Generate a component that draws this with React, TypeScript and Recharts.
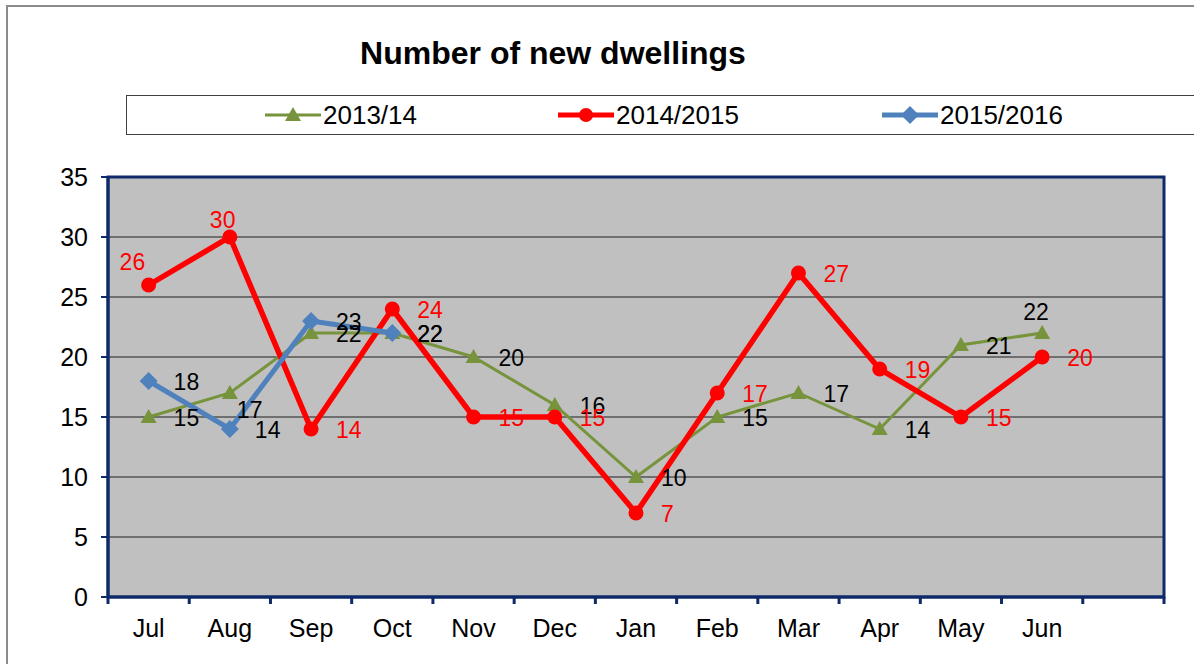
import React from 'react';
import { LineChart, Line, XAxis, YAxis, CartesianGrid, ReferenceArea, LabelList } from 'recharts';

// categories (last slot is empty, like the original sheet)
const months = ['Jul', 'Aug', 'Sep', 'Oct', 'Nov', 'Dec', 'Jan', 'Feb', 'Mar', 'Apr', 'May', 'Jun', ''];
const dwellings1314 = [15, 17, 22, 22, 20, 16, 10, 15, 17, 14, 21, 22];
const dwellings1415 = [26, 30, 14, 24, 15, 15, 7, 17, 27, 19, 15, 20];
const dwellings1516 = [18, 14, 23, 22];
const yTicks = [0, 5, 10, 15, 20, 25, 30, 35];

const GREEN = '#77933C';
const RED = '#FF0000';
const BLUE = '#4F81BD';
const NAVY = '#0E2A6A';
const FONT = '"Liberation Sans", Arial, sans-serif';

const W = 1194;
const H = 664;
const M = { top: 177, right: 30, bottom: 7, left: 0 };
const Y_WIDTH = 108;
const X_HEIGHT = 60;
const BAND = (W - M.left - M.right - Y_WIDTH) / months.length;

const data = months.map((m, i) => ({
  month: m,
  a: dwellings1314[i] ?? null,
  b: dwellings1415[i] ?? null,
  c: dwellings1516[i] ?? null,
}));

// label nudges for a few points, everything else sits to the right
const nudges: Record<string, Record<number, [number, number]>> = {
  a: { 1: [7, 17], 11: [-19, -21] },
  b: { 0: [-29, -23], 1: [-20, -17] },
  c: {},
};

const makeLabel = (key: string, color: string) => (props: any) => {
  const { x, y, value, index } = props;
  if (value == null || x == null || y == null) return null;
  const [dx, dy] = nudges[key][index] ?? [25, 1];
  return (
    <text x={x + dx} y={y + dy} fill={color} fontSize={23} fontFamily={FONT} textAnchor="start" dominantBaseline="central">
      {value}
    </text>
  );
};

const Triangle = (props: any) => {
  const { cx, cy, index } = props;
  if (cx == null || cy == null || props.value == null) return <g key={`t-${index}`} />;
  return <path key={`t-${index}`} d={`M${cx},${cy - 8} L${cx + 8},${cy + 6} L${cx - 8},${cy + 6} Z`} fill={GREEN} />;
};

const Diamond = (props: any) => {
  const { cx, cy, index } = props;
  if (cx == null || cy == null || props.value == null) return <g key={`d-${index}`} />;
  return <path key={`d-${index}`} d={`M${cx},${cy - 9} L${cx + 9},${cy} L${cx},${cy + 9} L${cx - 9},${cy} Z`} fill={BLUE} />;
};

const XTick = (props: any) => {
  const { x, y, payload, index } = props;
  const last = index === months.length - 1;
  return (
    <g>
      <line x1={x - BAND / 2} x2={x - BAND / 2} y1={y} y2={y + 7} stroke={NAVY} strokeWidth={3} />
      {last && <line x1={x + BAND / 2} x2={x + BAND / 2} y1={y} y2={y + 7} stroke={NAVY} strokeWidth={3} />}
      <text x={x} y={y + 31} textAnchor="middle" dominantBaseline="central" fontSize={25} fontFamily={FONT} fill="#000">
        {payload.value}
      </text>
    </g>
  );
};

const legendItems = [
  { name: '2013/14', color: GREEN, shape: 'triangle', left: 265 },
  { name: '2014/2015', color: RED, shape: 'circle', left: 558 },
  { name: '2015/2016', color: BLUE, shape: 'diamond', left: 882 },
];

const LegendIcon = ({ color, shape }: { color: string; shape: string }) => (
  <svg width={56} height={20} style={{ display: 'block' }}>
    <line x1={0} x2={56} y1={10} y2={10} stroke={color} strokeWidth={shape === 'triangle' ? 3 : 5} />
    {shape === 'triangle' && <path d="M28,2 L36,16 L20,16 Z" fill={color} />}
    {shape === 'circle' && <circle cx={28} cy={10} r={7} fill={color} />}
    {shape === 'diamond' && <path d="M28,1 L37,10 L28,19 L19,10 Z" fill={color} />}
  </svg>
);

export default function App() {
  return (
    <div style={{ position: 'absolute', left: 0, top: 0, width: W, height: H, background: '#fff', fontFamily: FONT, overflow: 'hidden' }}>
      <div style={{ position: 'absolute', left: 6, top: 5, width: W, height: H, border: '2px solid #8c8c8c' }} />
      <div style={{ position: 'absolute', left: 0, width: 1106, top: 34, textAlign: 'center', fontWeight: 'bold', fontSize: 32, lineHeight: '38px' }}>
        Number of new dwellings
      </div>
      <div style={{ position: 'absolute', left: 126, top: 95, width: 1100, height: 38, border: '1px solid #404040' }} />
      {legendItems.map((it) => (
        <div key={it.name} style={{ position: 'absolute', left: it.left, top: 101, display: 'flex', alignItems: 'center', height: 28 }}>
          <LegendIcon color={it.color} shape={it.shape} />
          <span style={{ fontSize: 26, marginLeft: 2, lineHeight: '28px' }}>{it.name}</span>
        </div>
      ))}
      <div style={{ position: 'absolute', left: 0, top: 0 }}>
        <LineChart width={W} height={H} data={data} margin={M}>
          <CartesianGrid vertical={false} stroke="#555" strokeWidth={1.5} fill="#C0C0C0" fillOpacity={1} />
          <XAxis
            dataKey="month"
            scale="band"
            height={X_HEIGHT}
            interval={0}
            axisLine={{ stroke: NAVY, strokeWidth: 3 }}
            tickLine={false}
            tickSize={0}
            tickMargin={0}
            tick={<XTick />}
          />
          <YAxis
            width={Y_WIDTH}
            domain={[0, 35]}
            ticks={yTicks}
            interval={0}
            axisLine={{ stroke: NAVY, strokeWidth: 3 }}
            tickLine={{ stroke: NAVY, strokeWidth: 2 }}
            tickSize={7}
            tickMargin={13}
            tick={{ fontSize: 25, fill: '#000', fontFamily: FONT }}
          />
          <ReferenceArea y1={0} y2={35} fill="none" stroke={NAVY} strokeWidth={3} />
          <Line dataKey="a" stroke={GREEN} strokeWidth={3} dot={Triangle} activeDot={false} isAnimationActive={false}>
            <LabelList dataKey="a" content={makeLabel('a', '#000')} />
          </Line>
          <Line dataKey="b" stroke={RED} strokeWidth={5.5} dot={{ r: 7.5, fill: RED, stroke: RED, strokeWidth: 0 }} activeDot={false} isAnimationActive={false}>
            <LabelList dataKey="b" content={makeLabel('b', RED)} />
          </Line>
          <Line dataKey="c" stroke={BLUE} strokeWidth={5} dot={Diamond} activeDot={false} isAnimationActive={false}>
            <LabelList dataKey="c" content={makeLabel('c', '#000')} />
          </Line>
        </LineChart>
      </div>
    </div>
  );
}
